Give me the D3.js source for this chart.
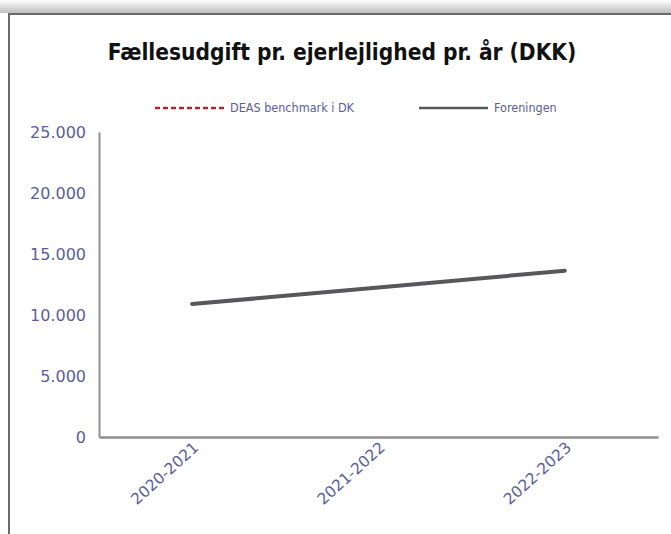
<!DOCTYPE html>
<html>
<head>
<meta charset="utf-8">
<script src="https://cdn.jsdelivr.net/npm/d3@7"></script>
<style>
  body { margin: 0; background: #fff; }
  svg { display: block; }
  text { font-family: "DejaVu Sans", sans-serif; }
</style>
</head>
<body>
<svg width="671" height="534"></svg>
<script>
// Data
const categories = ["2020-2021", "2021-2022", "2022-2023"];
const foreningen = [10900, 12250, 13630];
const deasBenchmark = []; // no values shown
const yTicks = [0, 5000, 10000, 15000, 20000, 25000];

const labelColor = "#5b5d9c";

// Set dimensions
const margin = { top: 132, right: 13, bottom: 97, left: 99 };
const width = 671 - margin.left - margin.right;
const height = 534 - margin.top - margin.bottom;

const root = d3.select("svg");

// Frame with shadow on top
const defs = root.append("defs");
const grad = defs.append("linearGradient")
    .attr("id", "shade")
    .attr("x1", 0).attr("y1", 0).attr("x2", 0).attr("y2", 1);
grad.append("stop").attr("offset", "0%").attr("stop-color", "#fff");
grad.append("stop").attr("offset", "100%").attr("stop-color", "#bdbdbd");

root.append("rect")
    .attr("x", 0).attr("y", 0)
    .attr("width", 671).attr("height", 13)
    .attr("fill", "url(#shade)");

root.append("path")
    .attr("d", "M9,534 V14 H671")
    .attr("fill", "none")
    .attr("stroke", "#6a6a6a")
    .attr("stroke-width", 2);

// Title
root.append("text")
    .attr("x", 342)
    .attr("y", 60)
    .attr("text-anchor", "middle")
    .attr("font-size", 22.5)
    .attr("font-weight", "bold")
    .attr("font-stretch", "condensed")
    .attr("fill", "#111")
    .text("Fællesudgift pr. ejerlejlighed pr. år (DKK)");

// Legend
const legend = [
    { name: "DEAS benchmark i DK", color: "#b3262d", dash: "5,3", x: 155 },
    { name: "Foreningen", color: "#58585c", dash: null, x: 419 }
];
const lg = root.selectAll(".legend")
    .data(legend)
    .enter()
    .append("g")
    .attr("class", "legend")
    .attr("transform", d => `translate(${d.x},108)`);
lg.append("line")
    .attr("x1", 0).attr("x2", 69)
    .attr("stroke", d => d.color)
    .attr("stroke-width", 2.5)
    .attr("stroke-dasharray", d => d.dash);
lg.append("text")
    .attr("x", 75)
    .attr("y", 4)
    .attr("font-size", 12.5)
    .attr("font-stretch", "condensed")
    .attr("fill", labelColor)
    .text(d => d.name);

const svg = root.append("g")
    .attr("transform", `translate(${margin.left},${margin.top})`);

const xScale = d3.scalePoint()
    .domain(categories)
    .range([0, width])
    .padding(0.5);

const yScale = d3.scaleLinear()
    .domain([0, 25000])
    .range([height, 0]);

const fmt = d => d3.format(",")(d).replace(/,/g, ".");

// Axes
const yAxis = svg.append("g")
    .call(d3.axisLeft(yScale).tickValues(yTicks).tickSize(0).tickPadding(13).tickFormat(fmt));
yAxis.select(".domain").attr("stroke", "#8f8f8f").attr("stroke-width", 2);
yAxis.selectAll("text")
    .attr("font-size", 16)
    .attr("fill", labelColor);

const xAxis = svg.append("g")
    .attr("transform", `translate(0, ${height})`)
    .call(d3.axisBottom(xScale).tickSize(0).tickPadding(0));
xAxis.select(".domain").attr("stroke", "#8f8f8f").attr("stroke-width", 2.5);
xAxis.selectAll("text")
    .attr("font-size", 15.5)
    .attr("fill", labelColor)
    .attr("text-anchor", "end")
    .attr("dy", null)
    .attr("transform", "translate(7,12) rotate(-42)");

// Line
const line = d3.line()
    .x((d, i) => xScale(categories[i]))
    .y(d => yScale(d));

svg.append("path")
    .datum(foreningen)
    .attr("fill", "none")
    .attr("stroke", "#58585c")
    .attr("stroke-width", 4)
    .attr("stroke-linecap", "round")
    .attr("d", line);

if (deasBenchmark.length) {
    svg.append("path")
        .datum(deasBenchmark)
        .attr("fill", "none")
        .attr("stroke", "#b3262d")
        .attr("stroke-width", 2.5)
        .attr("stroke-dasharray", "5,3")
        .attr("d", line);
}
</script>
</body>
</html>
